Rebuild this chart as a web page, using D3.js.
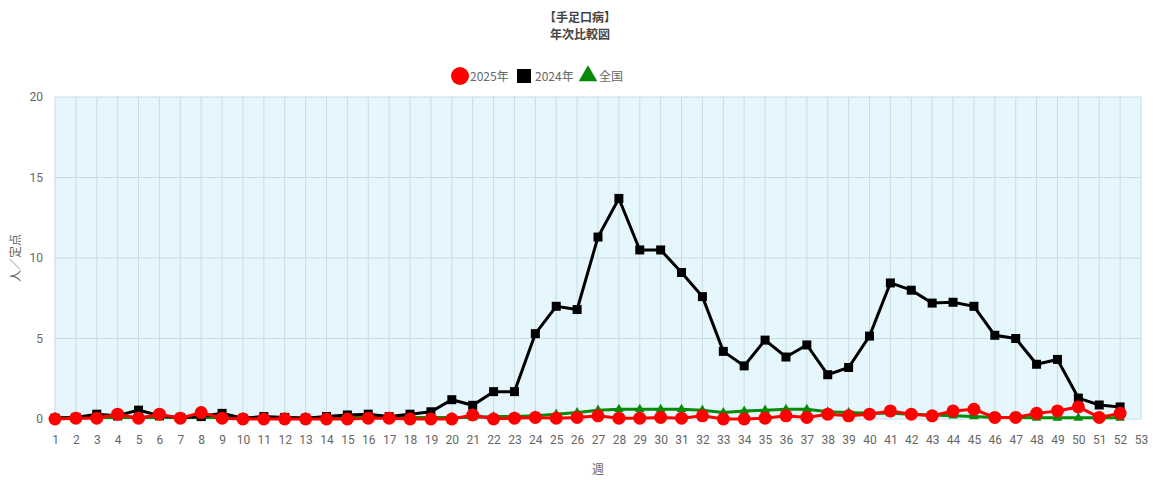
<!DOCTYPE html>
<html><head><meta charset="utf-8">
<script src="https://cdn.jsdelivr.net/npm/d3@7/dist/d3.min.js"></script>
<style>body{margin:0;background:#fff;}svg{display:block;font-family:"Noto Sans CJK JP","Noto Sans",sans-serif;}</style>
</head><body>
<svg id="c" width="1158" height="480"></svg>
<script>
const weeks = d3.range(1, 53);
const xTicks = d3.range(1, 54);
const yTicks = [0, 5, 10, 15, 20];
const seriesNames = ["2025年", "2024年", "全国"];
const v2025 = [0.0,0.05,0.05,0.3,0.05,0.3,0.05,0.4,0.05,0,0,0,0,0,0,0.05,0.05,0,0,0,0.25,0,0.05,0.1,0.05,0.1,0.2,0.05,0.05,0.1,0.05,0.2,0,0,0.05,0.2,0.1,0.3,0.2,0.3,0.5,0.3,0.2,0.5,0.6,0.1,0.1,0.35,0.5,0.75,0.1,0.35];
const v2024 = [0.05,0.1,0.3,0.2,0.55,0.2,0.1,0.15,0.35,0.05,0.15,0.1,0.05,0.15,0.25,0.3,0.15,0.3,0.45,1.2,0.85,1.7,1.7,5.3,7.0,6.8,11.3,13.7,10.5,10.5,9.1,7.6,4.2,3.3,4.9,3.85,4.6,2.75,3.2,5.15,8.45,8.0,7.2,7.25,7.0,5.2,5.0,3.4,3.7,1.3,0.87,0.75];
const vAll = [0.1,0.1,0.1,0.1,0.1,0.1,0.1,0.1,0.1,0.1,0.1,0.1,0.1,0.1,0.1,0.1,0.1,0.1,0.1,0.1,0.1,0.15,0.15,0.2,0.3,0.4,0.55,0.6,0.6,0.6,0.6,0.55,0.4,0.5,0.55,0.6,0.6,0.45,0.4,0.35,0.35,0.3,0.25,0.2,0.15,0.1,0.1,0.07,0.07,0.07,0.07,0.07];

const svg = d3.select("#c");
const L = 55, R = 1141, T = 97, B = 419;
const x = d3.scaleLinear().domain([1, 53]).range([L, R]);
const y = d3.scaleLinear().domain([0, 20]).range([B, T]);

svg.append("rect").attr("x", L).attr("y", T).attr("width", R - L).attr("height", B - T).attr("fill", "#e5f7fd");

// grid
svg.append("g").selectAll("line").data(xTicks).join("line")
  .attr("x1", d => x(d)).attr("x2", d => x(d)).attr("y1", T).attr("y2", B)
  .attr("stroke", "#c9dbe3").attr("stroke-width", 1);
svg.append("g").selectAll("line").data(yTicks).join("line")
  .attr("x1", L).attr("x2", R).attr("y1", d => y(d)).attr("y2", d => y(d))
  .attr("stroke", "#c9dbe3").attr("stroke-width", 1);

// axes
const xa = svg.append("g").attr("transform", `translate(0,${B})`)
  .call(d3.axisBottom(x).tickValues(xTicks).tickSize(0).tickPadding(16).tickFormat(d3.format("d")));
const ya = svg.append("g").attr("transform", `translate(${L},0)`)
  .call(d3.axisLeft(y).tickValues(yTicks).tickSize(0).tickPadding(12));
[xa, ya].forEach(a => { a.select(".domain").remove(); a.selectAll("text").attr("fill", "#666").attr("font-size", 12).attr("font-family", "Roboto, 'Noto Sans', sans-serif"); });

const line = d3.line().x((d, i) => x(weeks[i])).y(d => y(d));

// 全国 (bottom)
svg.append("path").datum(vAll).attr("d", line).attr("fill", "none").attr("stroke", "#078a07").attr("stroke-width", 3);
svg.append("g").selectAll("path").data(vAll).join("path")
  .attr("transform", (d, i) => `translate(${x(weeks[i])},${y(d)})`)
  .attr("d", d3.symbol(d3.symbolTriangle, 40)).attr("fill", "#078a07");

// 2024
svg.append("path").datum(v2024).attr("d", line).attr("fill", "none").attr("stroke", "#000").attr("stroke-width", 3);
svg.append("g").selectAll("rect").data(v2024).join("rect")
  .attr("x", (d, i) => x(weeks[i]) - 4.5).attr("y", d => y(d) - 4.5).attr("width", 9).attr("height", 9).attr("fill", "#000");

// 2025 (top)
svg.append("path").datum(v2025).attr("d", line).attr("fill", "none").attr("stroke", "#ff0000").attr("stroke-width", 3);
svg.append("g").selectAll("circle").data(v2025).join("circle")
  .attr("cx", (d, i) => x(weeks[i])).attr("cy", d => y(d)).attr("r", 6.5).attr("fill", "#ff0000");

// titles
svg.append("text").attr("x", 580).attr("y", 22).attr("text-anchor", "middle").attr("font-size", 12).attr("font-weight", "bold").attr("fill", "#444").text("【手足口病】");
svg.append("text").attr("x", 580).attr("y", 39).attr("text-anchor", "middle").attr("font-size", 12).attr("font-weight", "bold").attr("fill", "#444").text("年次比較図");

// legend
const lg = svg.append("g").attr("font-size", 12).attr("fill", "#666");
lg.append("circle").attr("cx", 460).attr("cy", 76).attr("r", 9).attr("fill", "#ff0000");
lg.append("text").attr("x", 470).attr("y", 80.5).text(seriesNames[0]);
lg.append("rect").attr("x", 517).attr("y", 69).attr("width", 14).attr("height", 14).attr("fill", "#000");
lg.append("text").attr("x", 535).attr("y", 80.5).text(seriesNames[1]);
lg.append("path").attr("transform", "translate(588,76)").attr("d", d3.symbol(d3.symbolTriangle, 150)).attr("fill", "#078a07");
lg.append("text").attr("x", 599).attr("y", 80.5).text(seriesNames[2]);

// axis titles
svg.append("text").attr("transform", "translate(20,258) rotate(-90)").attr("text-anchor", "middle").attr("font-size", 12).attr("fill", "#666").text("人／定点");
svg.append("text").attr("x", 598).attr("y", 474).attr("text-anchor", "middle").attr("font-size", 12).attr("fill", "#666").text("週");
</script>
</body></html>
